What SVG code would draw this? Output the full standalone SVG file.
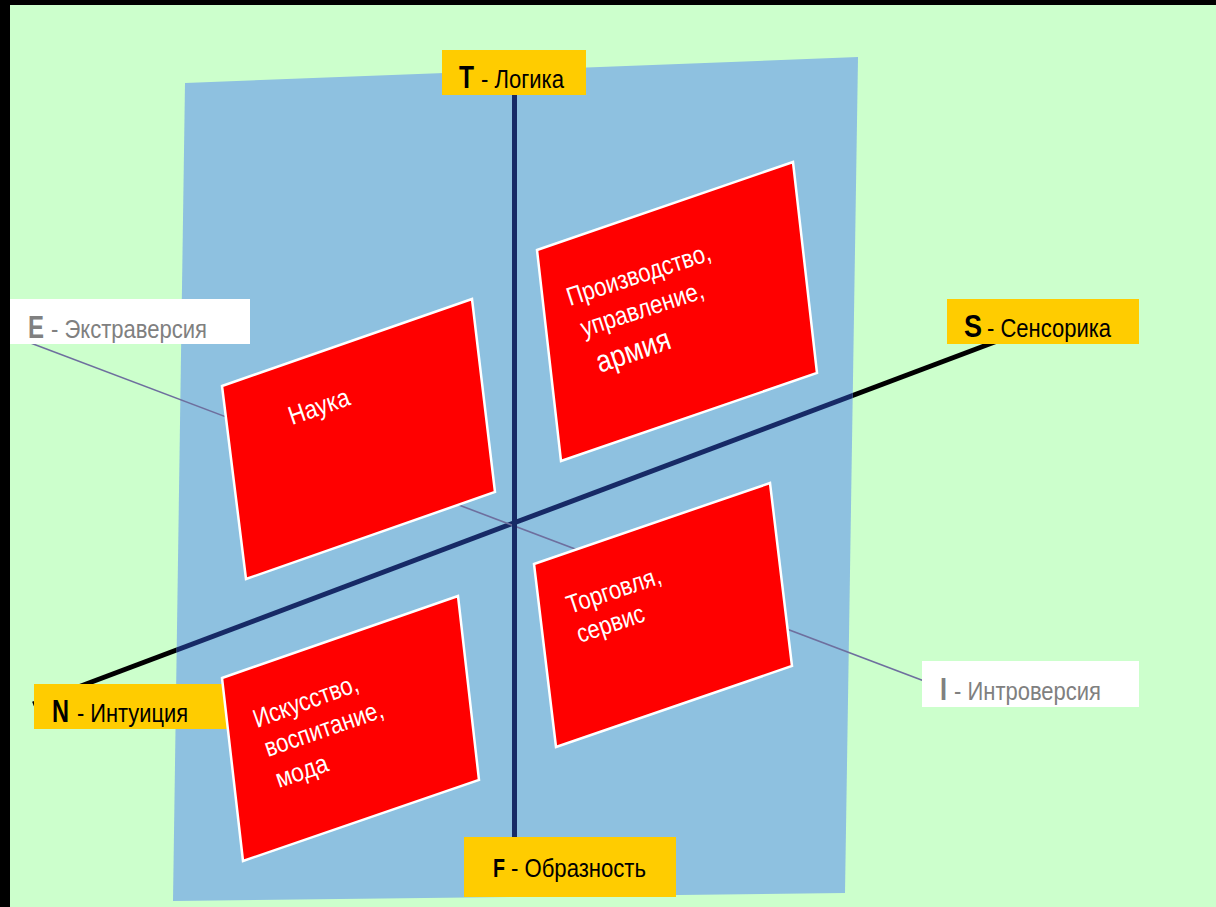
<svg xmlns="http://www.w3.org/2000/svg" width="1216" height="907" viewBox="0 0 1216 907">
<style>
.lbl{font-family:"Liberation Sans Narrow","Liberation Sans",Arial,sans-serif;font-size:26px;fill:#000}
.big{font-family:"Liberation Sans Narrow","Liberation Sans",Arial,sans-serif;font-size:31px;font-weight:bold;fill:#000}
.gray{fill:#808080}
.yel{fill:#FFCC00}
.wht{fill:#FFFFFF}
.card{fill:#FF0000;stroke:#FFFFFF;stroke-width:2.5;stroke-linejoin:miter}
.ct{font-family:"Liberation Sans Narrow","Liberation Sans",Arial,sans-serif;font-size:26px;fill:#FFFFFF}
</style>
<defs>
<clipPath id="plane"><polygon points="185,83 858,57 845,893 173,901"/></clipPath>
</defs>
<rect x="0" y="0" width="1216" height="907" fill="#000000"/>
<rect x="10" y="5" width="1206" height="902" fill="#CCFFCC"/>
<g id="axes-back">
<line x1="33" y1="704" x2="1000" y2="340" stroke="#000000" stroke-width="5"/>
</g>
<g id="plane-shape">
<polygon points="185,83 858,57 845,893 173,901" fill="#8EC1E0"/>
</g>
<g id="connectors">
<line x1="33" y1="704" x2="1000" y2="340" stroke="#172A66" stroke-width="5" clip-path="url(#plane)"/>
<line x1="20" y1="339" x2="940" y2="687" stroke="#6E6F9E" stroke-width="1.6"/>
<line x1="514.5" y1="95" x2="514.5" y2="838" stroke="#172A66" stroke-width="5"/>
</g>
<g id="label-N">
<rect class="yel" x="34" y="684" width="196" height="45"/>
<text class="big" x="52" y="722" textLength="17" lengthAdjust="spacingAndGlyphs">N</text>
<text class="lbl" x="77" y="722" textLength="111" lengthAdjust="spacingAndGlyphs">- Интуиция</text>
</g>
<g id="node-nauka">
<polygon class="card" points="222,386 472,299 495,492 246,579"/>
<text class="ct" transform="translate(292,425) rotate(-19)" textLength="63" lengthAdjust="spacingAndGlyphs">Наука</text>
</g>
<g id="node-proizvodstvo">
<polygon class="card" points="537,250 793,162 817,373 561,461"/>
<text class="ct" transform="translate(570,306) rotate(-18)" textLength="150" lengthAdjust="spacingAndGlyphs">Производство,</text>
<text class="ct" transform="translate(584,337) rotate(-18)" textLength="128" lengthAdjust="spacingAndGlyphs">управление,</text>
<text class="ct" style="font-size:31px" transform="translate(600,373) rotate(-19)" textLength="77" lengthAdjust="spacingAndGlyphs">армия</text>
</g>
<g id="node-torgovlya">
<polygon class="card" points="534,564 770,483 792,666 556,747"/>
<text class="ct" transform="translate(570,614) rotate(-18.5)" textLength="98" lengthAdjust="spacingAndGlyphs">Торговля,</text>
<text class="ct" transform="translate(580,643) rotate(-18.5)" textLength="70" lengthAdjust="spacingAndGlyphs">сервис</text>
</g>
<g id="node-iskusstvo">
<polygon class="card" points="222,678 458,596 479,780 243,861"/>
<text class="ct" transform="translate(257,728) rotate(-20)" textLength="110" lengthAdjust="spacingAndGlyphs">Искусство,</text>
<text class="ct" transform="translate(268,757) rotate(-19)" textLength="124" lengthAdjust="spacingAndGlyphs">воспитание,</text>
<text class="ct" transform="translate(279,788) rotate(-19)" textLength="54" lengthAdjust="spacingAndGlyphs">мода</text>
</g>
<g id="label-T">
<rect class="yel" x="442" y="50" width="144" height="45"/>
<text class="big" x="459" y="88" textLength="15" lengthAdjust="spacingAndGlyphs">T</text>
<text class="lbl" x="481" y="88" textLength="83" lengthAdjust="spacingAndGlyphs">- Логика</text>
</g>
<g id="label-S">
<rect class="yel" x="947" y="299" width="192" height="45"/>
<text class="big" x="964" y="337" textLength="18" lengthAdjust="spacingAndGlyphs">S</text>
<text class="lbl" x="987" y="337" textLength="124" lengthAdjust="spacingAndGlyphs">- Сенсорика</text>
</g>
<g id="label-E">
<rect class="wht" x="10" y="299" width="240" height="45"/>
<text class="big gray" x="28" y="338" textLength="16" lengthAdjust="spacingAndGlyphs">E</text>
<text class="lbl gray" x="51" y="338" textLength="156" lengthAdjust="spacingAndGlyphs">- Экстраверсия</text>
</g>
<g id="label-I">
<rect class="wht" x="922" y="661" width="217" height="46"/>
<text class="big gray" x="940" y="700" textLength="7" lengthAdjust="spacingAndGlyphs">I</text>
<text class="lbl gray" x="954" y="700" textLength="147" lengthAdjust="spacingAndGlyphs">- Интроверсия</text>
</g>
<g id="label-F">
<rect class="yel" x="464" y="837" width="212" height="60"/>
<text class="big" style="font-size:25px" x="493" y="877" textLength="12" lengthAdjust="spacingAndGlyphs">F</text>
<text class="lbl" style="font-size:25px" x="511" y="877" textLength="135" lengthAdjust="spacingAndGlyphs">- Образность</text>
</g>
</svg>
